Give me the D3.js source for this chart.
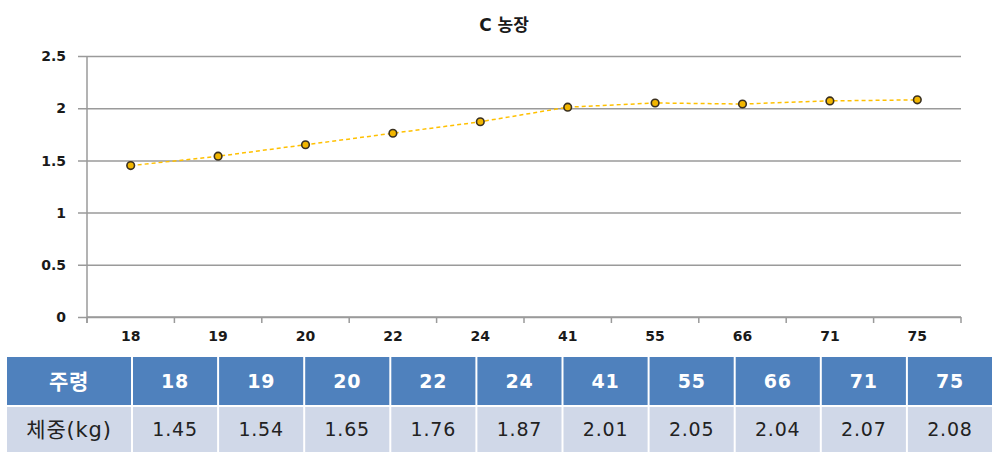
<!DOCTYPE html>
<html>
<head>
<meta charset="utf-8">
<script src="https://cdn.jsdelivr.net/npm/d3@7"></script>
<style>
  html, body { margin: 0; padding: 0; background: #fff; }
  svg { display: block; }
</style>
</head>
<body>
<svg id="chart" width="994" height="452"></svg>
<script>
// Weekly body weight for farm C
const title = "C 농장";
const weeks = ["18", "19", "20", "22", "24", "41", "55", "66", "71", "75"];
const weights = [1.45, 1.54, 1.65, 1.76, 1.87, 2.01, 2.05, 2.04, 2.07, 2.08];
const yTicks = [0, 0.5, 1, 1.5, 2, 2.5];
const rowHeaderWeek = "주령";
const rowHeaderWeight = "체중(kg)";

const svg = d3.select("#chart");
const font = "'DejaVu Sans', 'Noto Sans CJK KR', sans-serif";

const plot = { left: 87, right: 961, top: 56, bottom: 317 };

const x = d3.scaleBand().domain(weeks).range([plot.left, plot.right]);
const y = d3.scaleLinear().domain([0, 2.5]).range([plot.bottom, plot.top]);

// Title
svg.append("text")
  .attr("x", 504).attr("y", 31)
  .attr("text-anchor", "middle")
  .attr("font-family", font)
  .attr("font-size", 17).attr("font-weight", "bold")
  .attr("fill", "#1a1a1a")
  .text(title);

// Horizontal gridlines with left tick stubs
const yAxis = svg.append("g")
  .attr("transform", `translate(${plot.left},0)`)
  .call(d3.axisLeft(y).tickValues(yTicks).tickFormat(d3.format("")).tickSize(-(plot.right - plot.left)));
yAxis.select(".domain").remove();
yAxis.selectAll(".tick line")
  .attr("stroke", "#9a9a9a").attr("stroke-width", 1.5)
  .attr("x1", -9);
yAxis.selectAll(".tick text")
  .attr("font-family", font).attr("font-size", 14).attr("font-weight", "bold")
  .attr("fill", "#1a1a1a").attr("x", -21).attr("dy", "0.34em");

// Vertical axis line
svg.append("line")
  .attr("x1", plot.left).attr("x2", plot.left)
  .attr("y1", plot.top).attr("y2", plot.bottom + 6)
  .attr("stroke", "#9a9a9a").attr("stroke-width", 1.5);

// Category axis with boundary ticks
const xAxisG = svg.append("g").attr("transform", `translate(0,${plot.bottom})`);
xAxisG.append("line")
  .attr("x1", plot.left).attr("x2", plot.right)
  .attr("stroke", "#9a9a9a").attr("stroke-width", 1.5);
const bounds = weeks.map(w => x(w)).concat([plot.right]);
xAxisG.selectAll("line.tk").data(bounds).join("line")
  .attr("class", "tk")
  .attr("x1", d => d).attr("x2", d => d)
  .attr("y1", 0).attr("y2", 6)
  .attr("stroke", "#9a9a9a").attr("stroke-width", 1.5);
xAxisG.selectAll("text").data(weeks).join("text")
  .attr("x", d => x(d) + x.bandwidth() / 2)
  .attr("y", 24)
  .attr("text-anchor", "middle")
  .attr("font-family", font).attr("font-size", 14).attr("font-weight", "bold")
  .attr("fill", "#1a1a1a")
  .text(d => d);

// Dashed series line
const line = d3.line()
  .x((d, i) => x(weeks[i]) + x.bandwidth() / 2)
  .y(d => y(d));
svg.append("path")
  .datum(weights)
  .attr("d", line)
  .attr("fill", "none")
  .attr("stroke", "#ffc000")
  .attr("stroke-width", 1.5)
  .attr("stroke-dasharray", "4,3");

// Markers
svg.selectAll("circle.pt").data(weights).join("circle")
  .attr("class", "pt")
  .attr("cx", (d, i) => x(weeks[i]) + x.bandwidth() / 2)
  .attr("cy", d => y(d))
  .attr("r", 3.8)
  .attr("fill", "#f2b600")
  .attr("stroke", "#3a3020")
  .attr("stroke-width", 1.6);

// Data table below the chart
const table = { left: 7, firstW: 126, top: 357, headH: 50, rowH: 47, gap: 2 };
const colX = d3.scaleBand().domain(weeks).range([table.left + table.firstW, 994]).paddingInner(0);
const tg = svg.append("g");

function cell(xPos, w, yPos, h, fill, txt, color, bold, size) {
  tg.append("rect")
    .attr("x", xPos).attr("y", yPos)
    .attr("width", w - table.gap).attr("height", h - table.gap)
    .attr("fill", fill);
  tg.append("text")
    .attr("x", xPos + (w - table.gap) / 2)
    .attr("y", yPos + (h - table.gap) / 2)
    .attr("dy", "0.36em")
    .attr("text-anchor", "middle")
    .attr("font-family", font)
    .attr("font-size", size || 19)
    .attr("letter-spacing", 0.8)
    .attr("font-weight", bold ? "bold" : "normal")
    .attr("fill", color)
    .text(txt);
}

const headFill = "#4f81bd", bodyFill = "#d0d8e8";
const row2 = table.top + table.headH;
cell(table.left, table.firstW, table.top, table.headH, headFill, rowHeaderWeek, "#fff", true, 21);
cell(table.left, table.firstW, row2, table.rowH, bodyFill, rowHeaderWeight, "#222", false, 21);
weeks.forEach((w, i) => {
  cell(colX(w), colX.bandwidth(), table.top, table.headH, headFill, w, "#fff", true);
  cell(colX(w), colX.bandwidth(), row2, table.rowH, bodyFill, weights[i].toFixed(2), "#222", false);
});
</script>
</body>
</html>
